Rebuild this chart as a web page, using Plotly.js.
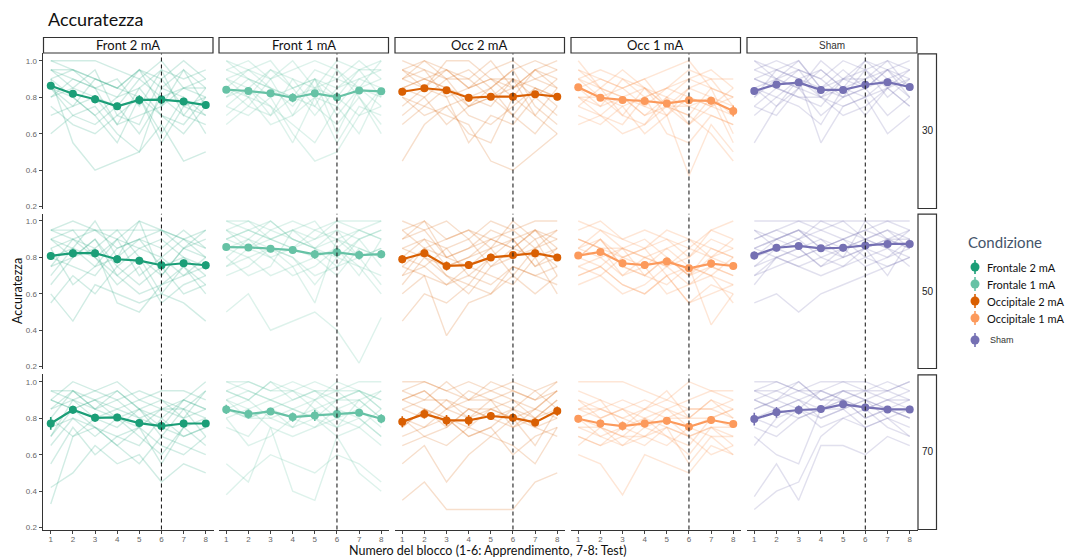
<!DOCTYPE html>
<html>
<head>
<meta charset="utf-8">
<script src="https://cdn.plot.ly/plotly-3.0.1.min.js"></script>
<style>html,body{margin:0;padding:0;background:#fff}#chart{width:1065px;height:557px}</style>
</head>
<body>
<div id="chart"></div>
<script>
// ---------------- DATA ----------------
const blocks = [1,2,3,4,5,6,7,8];
const conditions = ['Front 2 mA','Front 1 mA','Occ 2 mA','Occ 1 mA','Sham'];
const legendLabels = ['Frontale 2 mA','Frontale 1 mA','Occipitale 2 mA','Occipitale 1 mA','Sham'];
const intensities = ['30','50','70'];
const yTickVals = [0.2,0.4,0.6,0.8,1.0];
const yTickText = ['0.2','0.4','0.6','0.8','1.0'];

// group means (rows: 30, 50, 70)
const meanF2 = [[.863,.819,.789,.750,.785,.787,.776,.757],[.808,.823,.823,.790,.782,.757,.768,.757],[.771,.846,.802,.804,.773,.757,.771,.771]];
const meanF1 = [[.841,.834,.821,.797,.821,.800,.837,.832],[.857,.855,.848,.840,.817,.828,.813,.818],[.848,.823,.837,.806,.815,.823,.830,.797]];
const meanO2 = [[.830,.849,.838,.797,.803,.803,.816,.803],[.790,.823,.753,.758,.800,.813,.823,.800],[.780,.823,.788,.788,.812,.802,.777,.839]];
const meanO1 = [[.854,.797,.785,.779,.766,.783,.780,.724],[.810,.830,.768,.758,.777,.740,.766,.753],[.797,.771,.757,.771,.786,.753,.790,.768]];
const meanSh = [[.834,.870,.880,.840,.840,.868,.882,.856],[.811,.853,.863,.850,.853,.866,.874,.874],[.795,.832,.845,.850,.876,.859,.848,.848]];
// standard errors
const seF2 = [[.015,.018,.022,.020,.025,.025,.020,.020],[.022,.022,.020,.022,.020,.022,.020,.022],[.035,.022,.022,.020,.020,.020,.022,.018]];
const seF1 = [[.015,.018,.018,.025,.020,.025,.018,.018],[.018,.015,.020,.020,.025,.022,.025,.022],[.025,.025,.020,.025,.030,.022,.020,.025]];
const seO2 = [[.020,.015,.018,.020,.018,.018,.018,.020],[.022,.020,.025,.022,.020,.020,.020,.018],[.030,.025,.030,.030,.022,.022,.022,.025]];
const seO1 = [[.015,.018,.020,.018,.020,.020,.020,.030],[.018,.018,.022,.020,.018,.020,.022,.020],[.020,.022,.025,.020,.020,.022,.022,.020]];
const seSh = [[.020,.018,.015,.018,.018,.020,.018,.018],[.022,.020,.018,.018,.020,.020,.018,.018],[.035,.030,.025,.020,.018,.020,.018,.020]];

// individual subjects: Front 2 mA
const subjF2_30 = [[.95,.95,.90,.85,.95,.85,.95,.85],[1.0,1.0,1.0,.95,.90,1.0,.85,.90],[.90,.55,.40,.45,.50,.65,.45,.50],[.85,.80,.70,.55,.80,.60,.80,.70],[.60,.70,.65,.75,.60,.80,.70,.65],[.95,.90,.85,.80,.95,.75,.85,.80],[.80,.85,.95,.70,.65,.90,.75,.80],[.70,.75,.80,.65,.85,.70,.60,.75],[1.0,.95,.85,.90,.75,.95,.90,.95],[.85,.70,.75,.60,.50,.85,.80,.60],[.90,.95,.90,.85,.95,.90,1.0,.90],[.75,.65,.60,.70,.80,.55,.75,.70],[.95,.85,.80,.75,.90,.80,.85,.85],[.80,.90,.85,.65,.70,.75,.95,.75],[.90,.80,.70,.80,.85,.95,.70,.85],[.85,.75,.90,.85,.80,.70,.65,.80]];
const subjF2_50 = [[.95,1.0,.95,.90,1.0,.95,.90,.95],[.60,.45,.65,.60,.55,.60,.55,.45],[.90,.85,1.0,.80,.90,.85,.95,.85],[.55,.70,.60,.75,.65,.75,.60,.65],[.85,.90,.85,.95,.80,.70,.85,.80],[.75,.80,.90,.70,.60,.65,.70,.80],[.95,.95,.95,.95,.95,.95,.90,.85],[.80,.75,.70,.85,.90,.75,.80,.70],[.65,.80,.85,.55,.50,.65,.75,.60],[.90,.95,.80,.90,.85,.80,.70,.75],[.85,.65,.75,.80,1.0,.70,.85,.90],[.70,.85,.80,.65,.75,.55,.65,.70],[.95,.90,.95,.85,.90,.95,.85,.95],[.80,.85,.75,.90,.70,.80,.90,.80],[.90,.80,.90,.75,.85,.90,.80,.75],[.75,.90,.80,.70,.80,.60,.75,.65]];
const subjF2_70 = [[.95,.95,.90,.95,.85,.90,.85,.95],[.33,.70,.75,.65,.75,.55,.75,.80],[.90,1.0,.95,1.0,.90,.85,.90,.85],[.42,.50,.65,.55,.60,.45,.55,.50],[.85,.90,.80,.85,.80,.75,.90,.85],[.70,.85,.75,.70,.65,.80,.70,.75],[.95,.90,.95,.90,.95,.90,.80,.95],[.55,.75,.60,.70,.75,.65,.60,.70],[.80,.95,.85,.90,.80,.85,.85,.80],[.75,.80,.70,.80,.70,.60,.75,.65],[.90,.85,.90,.85,.90,.95,.95,.90],[.65,.80,.75,.65,.55,.70,.65,.60],[.85,.95,.85,.95,.85,.80,.90,1.0],[.80,.70,.80,.75,.85,.75,.70,.75],[.90,.85,.90,.80,.75,.85,.80,.85],[.70,.90,.85,.80,.85,.70,.85,.70]];
// Front 1 mA
const subjF1_30 = [[.90,.95,1.0,.85,.90,.80,.95,1.0],[.85,.80,.75,.65,.55,.75,.90,.85],[.95,1.0,.90,.95,1.0,.95,.85,.90],[.75,.70,.80,.60,.45,.50,.70,.75],[.65,.75,.70,.80,.75,.65,.80,.60],[.90,.85,.95,.90,.85,1.0,.95,.95],[.80,.90,.85,.75,.90,.70,.85,.80],[1.0,.95,.85,.80,.95,.90,1.0,.90],[.70,.80,.65,.70,.80,.55,.75,.70],[.85,.75,.90,1.0,.85,.80,.70,.85],[.95,.90,.80,.85,.70,.85,.90,.95],[.80,.85,.75,.55,.80,.75,.60,.85],[.90,.80,.95,.85,.90,.85,.95,.80],[.75,.85,.70,.90,.75,.95,.80,.65],[1.0,.90,.85,.80,.85,.90,.85,1.0],[.85,.95,.90,.70,.90,.60,.85,.75]];
const subjF1_50 = [[1.0,1.0,.95,1.0,.95,1.0,1.0,1.0],[.50,.60,.40,.45,.50,.40,.22,.47],[.95,.90,1.0,.90,.85,.95,.90,.95],[.85,.80,.85,.75,.55,.90,.80,.65],[.90,.95,.90,.95,1.0,.85,.95,.90],[.75,.85,.80,.85,.80,.70,.85,.80],[.95,1.0,.90,.85,.90,.95,.80,.85],[.70,.75,.85,.80,.65,.80,.75,.60],[.90,.85,.95,.90,.85,.90,.95,1.0],[.85,.90,.80,.70,.75,.85,.70,.90],[.80,.70,.75,.95,.85,.80,.90,.75],[1.0,.95,.90,.85,.95,.90,.85,.80],[.80,.90,.85,.80,.70,.75,.80,.85],[.95,.85,.90,.95,.90,1.0,.95,.90],[.75,.80,.70,.75,.80,.85,.75,.70],[.90,.95,1.0,.90,.85,.75,.90,.95]];
const subjF1_70 = [[1.0,1.0,.95,1.0,.95,.95,1.0,1.0],[.38,.50,.60,.55,.50,.60,.55,.45],[.95,.90,1.0,.90,.95,.90,.95,.90],[.55,.45,.75,.40,.35,.70,.50,.40],[.90,.95,.90,.85,.90,.95,.85,.95],[.85,.80,.85,.75,.80,.75,.90,.80],[.95,1.0,.95,.95,1.0,.95,.95,.85],[.80,.65,.70,.80,.75,.85,.80,.70],[.90,.85,.90,.95,.85,.90,.90,.95],[.85,.90,.80,.75,.90,.80,.75,.85],[1.0,.95,.90,.85,.80,.90,.95,.85],[.75,.70,.85,.80,.85,.75,.80,.70],[.90,.80,.85,.90,.95,.85,.90,.80],[.80,.85,.75,.70,.75,.80,.85,.75],[.95,.90,1.0,.95,.90,1.0,.95,.90],[.85,.80,.80,.85,.80,.70,.75,.65]];
// Occ 2 mA
const subjO2_30 = [[.95,1.0,.90,.95,.85,.95,1.0,.95],[.45,.65,.75,.60,.55,.80,.70,.60],[.90,.85,1.0,1.0,.90,.85,.95,1.0],[.80,.75,.70,.65,.45,.40,.50,.60],[.85,.90,.85,.80,.75,.90,.85,.80],[.70,.80,.65,.75,.85,.70,.60,.75],[.95,.90,.95,.85,.95,1.0,.90,.85],[.75,.85,.80,.55,.70,.65,.80,.70],[1.0,.95,.90,.90,1.0,.85,.95,.90],[.85,.80,.90,.75,.80,.90,.70,.85],[.65,.75,.85,.70,.65,.75,.85,.80],[.90,.95,.80,.85,.90,.80,.95,.85],[.80,.70,.75,.80,.85,.95,.75,.65],[.95,.85,.95,.90,.80,.85,.90,.95],[.85,.90,.85,.75,.80,.70,.85,.75],[.90,1.0,.95,.85,.90,.90,.80,.90]];
const subjO2_50 = [[1.0,.95,1.0,.90,1.0,.95,1.0,1.0],[.45,.60,.55,.65,.60,.70,.60,.70],[.90,1.0,.80,.85,.95,.90,.95,.85],[.75,.70,.37,.55,.60,.75,.70,.65],[.85,.90,.75,.80,.90,.85,.95,.90],[.65,.80,.70,.60,.75,.80,.85,.75],[.95,.85,.90,.95,.85,1.0,.90,.95],[.70,.75,.65,.75,.70,.65,.80,.60],[.80,.90,.85,.70,.80,.90,.75,.85],[.90,.95,.80,.85,.90,.85,.95,.80],[.60,.70,.65,.70,.65,.75,.70,.75],[.85,.80,.75,.80,.85,.70,.85,.90],[.95,1.0,.90,.95,.90,.95,.85,.95],[.75,.85,.70,.65,.80,.80,.90,.70],[.80,.75,.85,.90,.75,.85,.80,.85],[.70,.85,.80,.75,.85,.90,.75,.80]];
const subjO2_70 = [[1.0,1.0,.95,1.0,.95,1.0,.95,1.0],[.35,.45,.30,.30,.30,.30,.45,.50],[.95,.90,1.0,.90,.95,.90,.85,.95],[.55,.65,.45,.60,.70,.65,.55,.75],[.90,.95,.85,.95,.90,.95,.90,.95],[.75,.85,.80,.75,.85,.80,.65,.85],[.95,1.0,.95,.90,1.0,.95,.90,1.0],[.70,.75,.80,.70,.75,.60,.70,.75],[.85,.90,.90,.85,.80,.85,.80,.90],[.80,.70,.75,.85,.80,.75,.85,.80],[.90,.95,.85,.90,.90,.85,.95,.85],[.65,.70,.65,.75,.70,.80,.75,.70],[.85,.80,.90,.80,.85,.90,.80,.90],[.75,.85,.80,.70,.75,.85,.75,.80],[.80,.75,.85,.80,.90,.75,.80,.85],[.90,.85,.75,.85,.85,.80,.85,.95]];
// Occ 1 mA
const subjO1_30 = [[.95,.90,.85,.90,.95,1.0,.85,.80],[.85,.75,.80,.70,.75,.65,.80,.55],[.90,.85,.95,.85,.80,.90,.95,.85],[.75,.70,.65,.80,.60,.55,.70,.65],[1.0,.85,.80,.75,.85,.80,.75,.70],[.80,.80,.70,.85,.75,.70,.85,.60],[.90,.95,.90,.80,.85,.95,.90,.90],[.70,.65,.75,.60,.70,.37,.65,.50],[.85,.80,.85,.90,.75,.85,.80,.75],[.95,.85,.80,.70,.80,.75,.70,.65],[.80,.75,.90,.85,.70,.80,.75,.85],[.65,.70,.60,.65,.75,.70,.60,.45],[.90,.80,.75,.80,.85,.90,.85,.80],[.85,.90,.85,.75,.70,.85,.90,.75],[.80,.70,.80,.85,.75,.75,.80,.70],[.75,.85,.70,.65,.80,.65,.75,.80]];
const subjO1_50 = [[.95,1.0,.90,.95,.90,.85,.95,1.0],[.70,.75,.65,.60,.70,.55,.60,.65],[.90,.85,.80,.85,.95,.90,.85,.80],[.80,.90,.75,.70,.65,.75,.43,.60],[.85,.80,.85,.90,.80,.70,.80,.85],[.65,.70,.60,.65,.75,.65,.70,.55],[1.0,.95,.90,.85,.90,.80,.95,.90],[.75,.80,.70,.75,.60,.65,.75,.70],[.90,.85,.85,.80,.85,.90,.80,.75],[.80,.90,.75,.70,.80,.70,.85,.80],[.70,.75,.65,.60,.70,.55,.65,.60],[.85,.95,.85,.80,.75,.80,.90,.85],[.75,.70,.80,.75,.85,.75,.70,.65],[.90,.85,.70,.80,.75,.85,.80,.90],[.80,.75,.85,.70,.80,.70,.75,.70],[.85,.90,.80,.85,.70,.75,.70,.80]];
const subjO1_70 = [[1.0,1.0,1.0,.95,.90,1.0,.95,.95],[.60,.55,.38,.60,.55,.50,.65,.60],[.90,.85,.90,.85,.95,.80,.90,.85],[.75,.70,.65,.75,.70,.60,.75,.70],[.85,.80,.85,.80,.85,.75,.80,.85],[.65,.75,.70,.65,.75,.70,.60,.65],[.95,.90,.85,.90,.85,.90,.95,.90],[.80,.70,.75,.80,.70,.65,.80,.75],[.85,.85,.80,.85,.90,.85,.85,.80],[.70,.65,.70,.70,.75,.55,.70,.70],[.90,.80,.85,.75,.80,.85,.85,.90],[.75,.75,.65,.70,.80,.70,.75,.65],[.85,.90,.75,.85,.80,.80,.80,.85],[.70,.65,.75,.70,.65,.75,.70,.60],[.80,.85,.80,.75,.85,.80,.90,.80],[.80,.75,.70,.80,.75,.70,.75,.75]];
// Sham
const subjSh_30 = [[.95,1.0,.95,.90,1.0,.95,1.0,.95],[.55,.75,.85,.70,.80,.85,.70,.80],[.90,.95,1.0,.85,.90,1.0,.95,.90],[.85,.80,.90,.55,.75,.80,.90,.85],[1.0,.90,.85,.95,.85,.90,.95,1.0],[.75,.85,.80,.80,.70,.75,.85,.75],[.80,.95,.90,.85,.95,.85,.90,.80],[.90,.85,.95,.90,.80,.95,.85,.95],[.70,.80,.75,.65,.85,.80,.60,.70],[.95,.90,.85,1.0,.90,.90,1.0,.85],[.85,.75,.90,.80,.85,.70,.85,.90],[.80,.90,1.0,.85,.80,.85,.95,.85],[.90,.85,.80,.75,.90,.95,.80,.90],[.75,.70,.85,.80,.75,.80,.85,.75],[1.0,.95,.90,.95,.85,1.0,.90,.95],[.85,.90,.95,.80,.90,.85,.95,.80]];
const subjSh_50 = [[1.0,1.0,1.0,1.0,1.0,1.0,1.0,1.0],[.55,.60,.50,.60,.65,.70,.75,.80],[.95,.90,.95,.85,.90,.95,.90,.95],[.65,.80,.85,.75,.80,.85,.70,.90],[.90,.95,.90,1.0,.95,.90,.95,.90],[.80,.85,.90,.80,.75,.85,.90,.85],[.85,.90,.95,.90,.85,.90,.85,.80],[.70,.75,.80,.85,.90,.80,.85,.75],[.90,.95,1.0,.95,.90,.95,1.0,.95],[.75,.80,.75,.80,.85,.75,.80,.85],[.85,.80,.85,.90,.80,.85,.90,.90],[.80,.90,.85,.75,.85,.90,.95,.85],[.95,.85,.90,.95,1.0,.90,.85,.95],[.70,.80,.75,.70,.75,.80,.75,.80],[.85,.90,.95,.85,.80,1.0,.90,.85],[.75,.85,.80,.85,.90,.85,.80,.90]];
const subjSh_70 = [[1.0,1.0,.95,1.0,1.0,1.0,.95,1.0],[.37,.55,.35,.65,.65,.60,.70,.65],[.95,.95,1.0,.90,.95,.95,1.0,.95],[.30,.40,.45,.70,.80,.75,.80,.70],[.90,.85,.90,.95,.90,.85,.90,.90],[.70,.60,.55,.85,.85,.90,.85,.80],[.95,1.0,.95,.95,1.0,.95,.95,1.0],[.80,.75,.85,.80,.85,.75,.80,.75],[.90,.95,.90,.85,.95,.90,.85,.90],[.65,.80,.85,.75,.80,.85,.75,.70],[.85,.90,.95,.90,.90,.95,.90,.85],[.75,.70,.80,.85,.90,.80,.85,.80],[.95,.90,.85,.95,.90,.85,.90,.95],[.80,.85,.90,.80,.85,.90,.80,.85],[.85,.90,1.0,.90,.95,.90,.95,.90],[.90,.85,.80,.85,.90,.80,.85,.80]];

// ---------------- STYLE ----------------
const mainColors = ['#1b9e77','#66c2a5','#d95f02','#fc9a5c','#7570b3'];
const faintColors = ['rgba(27,158,119,0.2)','rgba(102,194,165,0.22)','rgba(217,95,2,0.2)','rgba(252,154,92,0.25)','rgba(117,112,179,0.22)'];
const means = [meanF2, meanF1, meanO2, meanO1, meanSh];
const ses = [seF2, seF1, seO2, seO1, seSh];
const subjects = [[subjF2_30,subjF2_50,subjF2_70],[subjF1_30,subjF1_50,subjF1_70],[subjO2_30,subjO2_50,subjO2_70],[subjO1_30,subjO1_50,subjO1_70],[subjSh_30,subjSh_50,subjSh_70]];

const W = 1065, H = 557;
const colPx = [[43,213.5],[218.5,389],[394.5,565],[570.5,741],[746.5,917.5]];
const rowPx = [[53.4,208.5],[213.7,368.5],[374.4,529.5]];
const px = v => v / W, py = v => 1 - v / H;

const traces = [];
const layout = {
  width: W, height: H,
  margin: {l:0, r:0, t:0, b:0},
  paper_bgcolor: '#fff', plot_bgcolor: 'rgba(0,0,0,0)',
  showlegend: false,
  hovermode: false,
  title: {text: 'Accuratezza', x: px(48), xanchor: 'left', y: py(20), yanchor: 'middle',
          font: {family: 'Lato, Open Sans, sans-serif', size: 18, color: '#111'}},
  shapes: [], annotations: []
};

for (let r = 0; r < 3; r++) {
  for (let c = 0; c < 5; c++) {
    const i = r * 5 + c;
    const xa = i === 0 ? 'x' : 'x' + (i + 1);
    const ya = i === 0 ? 'y' : 'y' + (i + 1);
    const xKey = i === 0 ? 'xaxis' : 'xaxis' + (i + 1);
    const yKey = i === 0 ? 'yaxis' : 'yaxis' + (i + 1);
    layout[xKey] = {
      domain: [px(colPx[c][0]), px(colPx[c][1])], anchor: ya,
      range: [0.65, 8.35], tickvals: blocks, ticktext: blocks.map(String),
      showgrid: false, zeroline: false,
      showticklabels: r === 2, ticks: r === 2 ? 'outside' : '', ticklen: 3, tickwidth: 1, tickcolor: '#444',
      ticklabelstandoff: -2,
      showline: r === 2, linecolor: '#333', linewidth: 1.5,
      tickfont: {family: 'Liberation Sans, Arial, sans-serif', size: 8, color: '#666'}
    };
    layout[yKey] = {
      domain: [py(rowPx[r][1]), py(rowPx[r][0])], anchor: xa,
      range: [0.19, 1.04], tickvals: yTickVals, ticktext: yTickText,
      showgrid: false, zeroline: false,
      showticklabels: c === 0, ticks: c === 0 ? 'outside' : '', ticklen: 3, tickwidth: 1, tickcolor: '#444',
      showline: c === 0, linecolor: '#333', linewidth: 1.5,
      tickfont: {family: 'Liberation Sans, Arial, sans-serif', size: 8, color: '#666'}
    };
    // individual subjects
    subjects[c][r].forEach(s => {
      traces.push({x: blocks, y: s, xaxis: xa, yaxis: ya, type: 'scatter', mode: 'lines',
        line: {color: faintColors[c], width: 1.4}, hoverinfo: 'skip'});
    });
    // group mean with error bars
    traces.push({x: blocks, y: means[c][r], xaxis: xa, yaxis: ya, type: 'scatter', mode: 'lines+markers',
      line: {color: mainColors[c], width: 2.2},
      marker: {color: mainColors[c], size: 8},
      error_y: {type: 'data', array: ses[c][r], visible: true, color: mainColors[c], thickness: 1.6, width: 0}});
    // dashed reference line at block 6
    layout.shapes.push({type: 'line', xref: xa, yref: ya + ' domain', x0: 6, x1: 6, y0: 0, y1: 1,
      line: {color: '#222', width: 1.1, dash: '4px,3px'}, layer: 'above'});
  }
}

// top strips
conditions.forEach((lab, c) => {
  layout.shapes.push({type: 'rect', xref: 'paper', yref: 'paper',
    x0: px(colPx[c][0] + 0.5), x1: px(colPx[c][1] - 0.5), y0: py(53), y1: py(37.5),
    line: {color: '#333', width: 1.2}, fillcolor: '#fff'});
  const isSham = lab === 'Sham';
  layout.annotations.push({xref: 'paper', yref: 'paper', x: px((colPx[c][0] + colPx[c][1]) / 2), y: py(45.5),
    text: lab, showarrow: false, xanchor: 'center', yanchor: 'middle',
    font: isSham ? {family: 'Liberation Sans, Arial, sans-serif', size: 10, color: '#333'}
                 : {family: 'Lato, Open Sans, sans-serif', size: 13, color: '#111'}});
});
// right strips
intensities.forEach((lab, r) => {
  layout.shapes.push({type: 'rect', xref: 'paper', yref: 'paper',
    x0: px(918), x1: px(936.5), y0: py(rowPx[r][1]), y1: py(rowPx[r][0] + 0.5),
    line: {color: '#333', width: 1.2}, fillcolor: '#fff'});
  layout.annotations.push({xref: 'paper', yref: 'paper', x: px(927.5), y: py((rowPx[r][0] + rowPx[r][1]) / 2),
    text: lab, showarrow: false, xanchor: 'center', yanchor: 'middle',
    font: {family: 'Liberation Sans, Arial, sans-serif', size: 10, color: '#222'}});
});

// axis titles
layout.annotations.push({xref: 'paper', yref: 'paper', x: px(487), y: py(550.5),
  text: 'Numero del blocco (1-6: Apprendimento, 7-8: Test)', showarrow: false, xanchor: 'center', yanchor: 'middle',
  font: {family: 'Lato, Open Sans, sans-serif', size: 12.5, color: '#111'}});
layout.annotations.push({xref: 'paper', yref: 'paper', x: px(17), y: py(291),
  text: 'Accuratezza', textangle: -90, showarrow: false, xanchor: 'center', yanchor: 'middle',
  font: {family: 'Lato, Open Sans, sans-serif', size: 12.5, color: '#111'}});

// legend
layout.annotations.push({xref: 'paper', yref: 'paper', x: px(966), y: py(242),
  text: 'Condizione', showarrow: false, xanchor: 'left', yanchor: 'middle',
  font: {family: 'Lato, Open Sans, sans-serif', size: 15, color: '#44546a'}});
const legY = [267, 284, 301, 318, 340];
legendLabels.forEach((lab, k) => {
  const cx = px(975), cy = py(legY[k]);
  layout.shapes.push({type: 'line', xref: 'paper', yref: 'paper', xsizemode: 'pixel', ysizemode: 'pixel',
    xanchor: cx, yanchor: cy, x0: 0, x1: 0, y0: -7, y1: 7, line: {color: mainColors[k], width: 1.6}});
  layout.shapes.push({type: 'circle', xref: 'paper', yref: 'paper', xsizemode: 'pixel', ysizemode: 'pixel',
    xanchor: cx, yanchor: cy, x0: -4.5, x1: 4.5, y0: -4.5, y1: 4.5, fillcolor: mainColors[k], line: {width: 0}});
  const isSham = lab === 'Sham';
  layout.annotations.push({xref: 'paper', yref: 'paper', x: px(isSham ? 988 : 985), y: cy,
    text: lab, showarrow: false, xanchor: 'left', yanchor: 'middle',
    font: isSham ? {family: 'Liberation Sans, Arial, sans-serif', size: 9, color: '#333'}
                 : {family: 'Lato, Open Sans, sans-serif', size: 11, color: '#111'}});
});

Plotly.newPlot('chart', traces, layout, {staticPlot: true, displayModeBar: false});
</script>
</body>
</html>
